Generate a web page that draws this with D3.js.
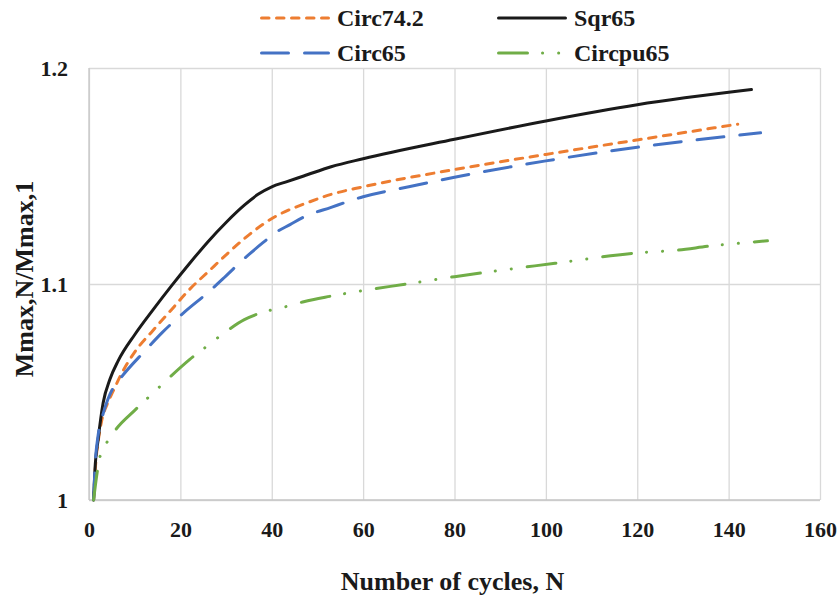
<!DOCTYPE html>
<html>
<head>
<meta charset="utf-8">
<script src="https://cdn.jsdelivr.net/npm/d3@7"></script>
<style>
  html, body { margin: 0; padding: 0; background: #fff; }
  svg { display: block; }
  text { font-family: "Liberation Serif", "Times New Roman", serif; font-weight: bold; }
</style>
</head>
<body>
<div id="chart"></div>
<script>
// cycles (N) and normalised moment Mmax,N/Mmax,1 for each specimen
const circ742N = [1, 1.5, 2, 2.8, 4, 5.3, 7, 10, 14, 18, 22, 26, 30, 34, 38, 41, 44, 47, 53, 60, 80, 100, 120, 142];
const circ742V = [1.0, 1.018, 1.027, 1.037, 1.0445, 1.0505, 1.058, 1.0685, 1.0785, 1.088, 1.0975, 1.1055, 1.1135, 1.121, 1.1275, 1.1315, 1.1345, 1.137, 1.1415, 1.145, 1.153, 1.160, 1.1667, 1.174];

const sqr65N = [1, 1.3, 2, 3.1, 4.6, 6.4, 10, 14, 18, 22, 26, 30, 34, 37, 40, 43, 47, 53, 60, 80, 100, 120, 145];
const sqr65V = [1.0, 1.014, 1.028, 1.045, 1.056, 1.0645, 1.0765, 1.088, 1.099, 1.1095, 1.1195, 1.1285, 1.1365, 1.1415, 1.145, 1.1472, 1.150, 1.1543, 1.158, 1.167, 1.1755, 1.183, 1.190];

const circ65N = [1, 1.4, 2, 3.1, 4.2, 5.3, 7.5, 12, 16, 21, 26, 30, 34, 38, 41, 44, 47, 53, 60, 70, 80, 100, 120, 147];
const circ65V = [1.0, 1.018, 1.030, 1.040, 1.047, 1.052, 1.058, 1.0685, 1.0775, 1.0872, 1.096, 1.1038, 1.1118, 1.119, 1.124, 1.1275, 1.131, 1.1355, 1.1404, 1.145, 1.1494, 1.157, 1.1633, 1.170];

const circpu65N = [1, 1.8, 2.4, 4, 6, 10, 14, 18, 22, 26, 30, 34, 37, 40, 44, 47, 53, 60, 69.5, 80, 102, 120, 129, 136, 143, 148.5];
const circpu65V = [1.0, 1.013, 1.020, 1.027, 1.033, 1.0415, 1.0495, 1.0575, 1.065, 1.0715, 1.078, 1.0835, 1.0862, 1.088, 1.090, 1.0918, 1.0944, 1.097, 1.100, 1.1034, 1.1096, 1.1144, 1.1157, 1.1176, 1.119, 1.120];

const xTicks = [0, 20, 40, 60, 80, 100, 120, 140, 160];
const yTicks = [1, 1.1, 1.2];

const seriesNames = ["Circ74.2", "Sqr65", "Circ65", "Circpu65"];

const W = 838, H = 599;
const margin = { top: 68, right: 18, bottom: 99, left: 89 };
const FONT = "Liberation Serif";

const svg = d3.select("#chart").append("svg")
  .attr("width", W)
  .attr("height", H);

const x = d3.scaleLinear().domain([0, 160]).range([margin.left, W - margin.right]);
const y = d3.scaleLinear().domain([1, 1.2]).range([H - margin.bottom, margin.top]);

// gridlines + tick labels
const xAxis = svg.append("g")
  .attr("transform", `translate(0,${H - margin.bottom})`)
  .call(d3.axisBottom(x).tickValues(xTicks).tickSize(-(H - margin.top - margin.bottom)).tickPadding(21));
xAxis.select(".domain").remove();
xAxis.selectAll("line").attr("stroke", "#d9d9d9").attr("stroke-width", 1.3);
xAxis.selectAll("text").attr("font-size", 22).attr("fill", "#1a1a1a").attr("font-family", FONT).attr("font-weight", "bold");

const yAxis = svg.append("g")
  .attr("transform", `translate(${margin.left},0)`)
  .call(d3.axisLeft(y).tickValues(yTicks).tickFormat(d => String(d)).tickSize(-(W - margin.left - margin.right)).tickPadding(21));
yAxis.select(".domain").remove();
yAxis.selectAll("line").attr("stroke", "#d9d9d9").attr("stroke-width", 1.3);
yAxis.selectAll("text").attr("font-size", 22).attr("fill", "#1a1a1a").attr("font-family", FONT).attr("font-weight", "bold");

// axis lines
svg.append("line")
  .attr("x1", x(0)).attr("x2", x(160)).attr("y1", y(1)).attr("y2", y(1))
  .attr("stroke", "#c6c6c6").attr("stroke-width", 1.3);
svg.append("line")
  .attr("x1", x(0)).attr("x2", x(0)).attr("y1", y(1)).attr("y2", y(1.2))
  .attr("stroke", "#c6c6c6").attr("stroke-width", 1.3);

const series = [
  { name: seriesNames[0], n: circ742N, v: circ742V, color: "#ed7d31", dash: "7.5,7.5" },
  { name: seriesNames[1], n: sqr65N, v: sqr65V, color: "#1a1a1a", dash: null },
  { name: seriesNames[2], n: circ65N, v: circ65V, color: "#4472c4", dash: "27,16" },
  { name: seriesNames[3], n: circpu65N, v: circpu65V, color: "#70ad47", dash: "29,15,0.1,16,0.1,16" }
];

const line = d3.line()
  .x(d => x(d[0]))
  .y(d => y(d[1]))
  .curve(d3.curveMonotoneX);

svg.append("g").selectAll("path")
  .data(series)
  .enter()
  .append("path")
  .attr("d", s => line(s.n.map((n, i) => [n, s.v[i]])))
  .attr("fill", "none")
  .attr("stroke", s => s.color)
  .attr("stroke-width", 3)
  .attr("stroke-linecap", "round")
  .attr("stroke-linejoin", "round")
  .attr("stroke-dasharray", s => s.dash);

// legend (2 x 2)
const legendPos = [
  { sx: 260, ty: 18 }, { sx: 497, ty: 18 },
  { sx: 260, ty: 53 }, { sx: 497, ty: 53 }
];
const legend = svg.append("g").selectAll("g")
  .data(series)
  .enter()
  .append("g")
  .attr("transform", (s, i) => `translate(${legendPos[i].sx},${legendPos[i].ty})`);
legend.append("line")
  .attr("x1", 1.5).attr("x2", 68.5).attr("y1", 0).attr("y2", 0)
  .attr("stroke", s => s.color)
  .attr("stroke-width", 3)
  .attr("stroke-linecap", "round")
  .attr("stroke-dasharray", s => s.dash);
legend.append("text")
  .attr("x", 77)
  .attr("y", 0)
  .attr("dy", "0.34em")
  .attr("font-size", 24)
  .attr("font-family", FONT)
  .attr("font-weight", "bold")
  .attr("fill", "#1a1a1a")
  .text(s => s.name);

// axis titles
svg.append("text")
  .attr("x", (x(0) + x(160)) / 2 - 2)
  .attr("y", 590)
  .attr("text-anchor", "middle")
  .attr("font-size", 26)
  .attr("font-family", FONT)
  .attr("font-weight", "bold")
  .attr("fill", "#1a1a1a")
  .text("Number of cycles, N");

svg.append("text")
  .attr("transform", "translate(33,279) rotate(-90)")
  .attr("text-anchor", "middle")
  .attr("font-size", 26)
  .attr("font-family", FONT)
  .attr("font-weight", "bold")
  .attr("fill", "#1a1a1a")
  .text("Mmax,N/Mmax,1");
</script>
</body>
</html>
